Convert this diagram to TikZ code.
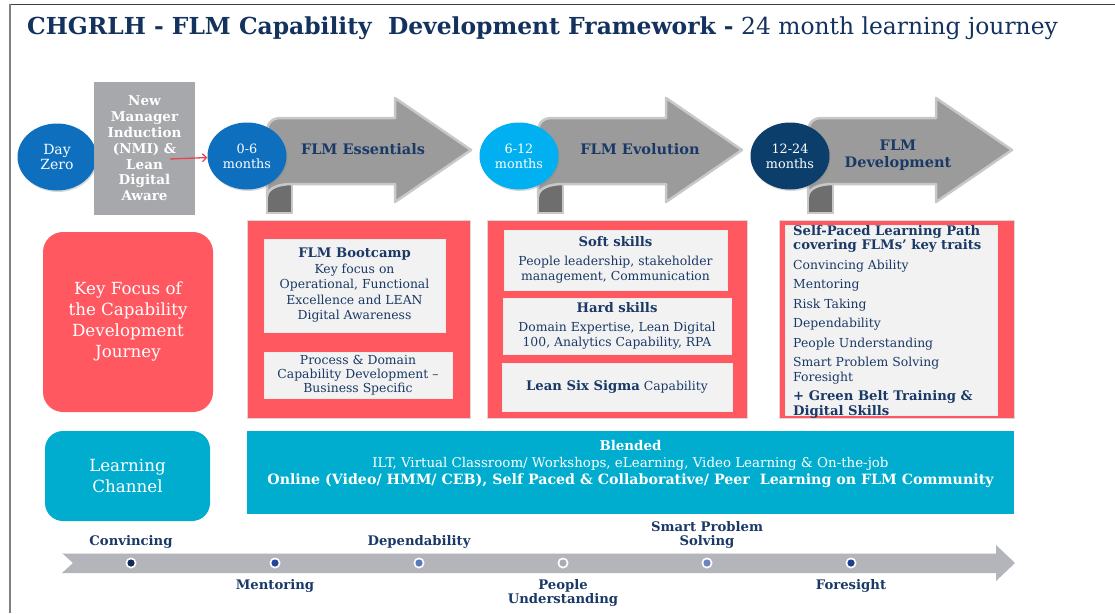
\documentclass[tikz,border=0pt]{standalone}
\usepackage{fontspec}
\setmainfont{DejaVu Serif}
\usetikzlibrary{shapes.geometric,arrows.meta,shadows}

\definecolor{navy}{HTML}{1A3966}
\definecolor{titlenavy}{HTML}{14325E}
\definecolor{coral}{HTML}{FF5861}
\definecolor{tealbox}{HTML}{00ADCE}
\definecolor{panel}{HTML}{F2F2F2}
\definecolor{nmigray}{HTML}{A6A8AB}
\definecolor{arrowgray}{HTML}{9B9B9B}
\definecolor{arrowedge}{HTML}{C8C8C8}
\definecolor{curlgray}{HTML}{6E6E6E}
\definecolor{bandgray}{HTML}{B3B5BB}
\definecolor{blueA}{HTML}{0E6FBF}
\definecolor{blueB}{HTML}{00B0F0}
\definecolor{blueC}{HTML}{0B3E6B}
\definecolor{linkred}{HTML}{E84450}
\definecolor{dotA}{HTML}{0F2B55}
\definecolor{dotB}{HTML}{23479A}
\definecolor{dotC}{HTML}{5B78B8}
\definecolor{dotD}{HTML}{A9ACB3}
\definecolor{dotE}{HTML}{6C84C2}
\definecolor{dotF}{HTML}{1E3F8E}

\newcommand{\fsz}[2]{\fontsize{#1}{#2}\selectfont}
\newcommand{\hd}[1]{{\fontsize{13.2}{15}\selectfont\bfseries #1}}

% ribbon-style phase arrow, #1 = left edge of its body
\newcommand{\ribbon}[1]{%
  \begin{scope}[shift={(#1,0)}]
    \filldraw[fill=curlgray, draw=arrowedge, line width=1.2pt]
      (0,178) -- (0,213) -- (25,213) -- (25,178) -- cycle;
    \filldraw[fill=arrowgray, draw=arrowedge, line width=2.5pt, line join=round]
      (0,197) -- (0,132) .. controls (0,123) and (5,118) .. (14,118)
      -- (128,118) -- (128,98) -- (204,150) -- (128,202) -- (128,184)
      -- (25,184) .. controls (12,184) and (0,188) .. (0,197) -- cycle;
  \end{scope}}

\begin{document}
\begin{tikzpicture}[x=1pt,y=-1pt,
  phase/.style={ellipse, minimum width=79pt, minimum height=67pt, inner sep=0pt,
    text=white, align=center, font=\fsz{12.8}{15},
    drop shadow={opacity=0.3, shadow xshift=1pt, shadow yshift=-1.5pt}},
  phasetitle/.style={text=navy, align=center, font=\fsz{14.5}{17}\bfseries},
  redpanel/.style={fill=coral, draw=black!15, line width=0.5pt, inner sep=0pt},
  card/.style={fill=panel, draw=white!85!gray, line width=0.6pt, inner sep=0pt,
    text=navy, align=center, font=\fsz{12.4}{15.5}},
  sidebox/.style={rounded corners=20pt, inner sep=0pt, text=white, align=center,
    font=\fsz{16.7}{21}},
  tlabel/.style={text=navy, align=center, font=\fsz{13.2}{14.5}\bfseries},
  dotring/.style={circle, fill=white, minimum size=11pt, inner sep=0pt},
  linkarrow/.style={draw=linkred, line width=1.3pt, -{Straight Barb[length=4pt,width=8pt]}}
]
\useasboundingbox[fill=white] (0,0) rectangle (1115,613);

% frame lines
\draw[black!75, line width=1.2pt] (10,4.5) -- (1115,4.5);
\draw[black!50, line width=2.2pt] (10,4) -- (10,613);

% heading
\node[anchor=base west, inner sep=0pt, text=titlenavy] (title) at (27,34)
  {\fsz{23.4}{28}\textbf{CHGRLH - FLM Capability\ \ Development Framework -}\ 24 month learning journey};

% starting point and induction
\node[phase, fill=blueA, font=\fsz{14}{15}] (c0) at (57,157) {Day\\Zero};
\node[fill=nmigray, minimum width=101pt, minimum height=133pt, inner sep=0pt,
  text=white, align=center, font=\fsz{13.5}{15.8}\bfseries] (nmi) at (144.5,148.5)
  {New\\Manager\\Induction\\(NMI) \&\\Lean\\Digital\\Aware};

% phase ribbons
\ribbon{267}
\ribbon{538}
\ribbon{808}

\node[phase, fill=blueA] (c1) at (247,156) {0-6\\months};
\node[phase, fill=blueB] (c2) at (519,156) {6-12\\months};
\node[phase, fill=blueC] (c3) at (790,156) {12-24\\months};

\node[phasetitle] (p1) at (363,149) {FLM Essentials};
\node[phasetitle] (p2) at (640,149) {FLM Evolution};
\node[phasetitle] (p3) at (898,155) {FLM\\Development};

\coordinate (nmiout) at (170,159);
\draw[linkarrow] (nmiout) -- (c1);

% key focus row
\node[sidebox, fill=coral, minimum width=170pt, minimum height=180pt] (kf) at (128,322)
  {Key Focus of\\the Capability\\Development\\Journey};

\node[redpanel, minimum width=223pt, minimum height=198pt] (r1) at (358.5,319) {};
\node[redpanel, minimum width=260pt, minimum height=198pt] (r2) at (617,319) {};
\node[redpanel, minimum width=235pt, minimum height=198pt] (r3) at (896.5,319) {};

\node[card, minimum width=181pt, minimum height=93pt] (b1) at (354.5,285.5)
  {\hd{FLM Bootcamp}\\Key focus on\\Operational, Functional\\Excellence and LEAN\\Digital Awareness};
\node[card, minimum width=188pt, minimum height=46pt, font=\fsz{12.4}{14}] (b2) at (358,375)
  {Process \& Domain\\Capability Development –\\Business Specific};

\node[card, minimum width=223pt, minimum height=60pt, font=\fsz{12.4}{15}] (s1) at (615.5,260)
  {\hd{Soft skills}\\[4pt]People leadership, stakeholder\\management, Communication};
\node[card, minimum width=228pt, minimum height=56pt, font=\fsz{12.4}{15}] (s2) at (617,326)
  {\hd{Hard skills}\\[4pt]Domain Expertise, Lean Digital\\100, Analytics Capability, RPA};
\node[card, minimum width=230pt, minimum height=48pt] (s3) at (617,387)
  {\hd{Lean Six Sigma} Capability};

\node[card, minimum width=212pt, minimum height=190pt] (s4) at (891,320) {};
\node[anchor=north west, inner sep=0pt, text=navy, align=left, font=\fsz{12.4}{14.5}] (traits) at (793,225)
  {\hd{Self-Paced Learning Path}\\
   \hd{covering FLMs’ key traits}\\[5pt]
   Convincing Ability\\[5pt]
   Mentoring\\[5pt]
   Risk Taking\\[5pt]
   Dependability\\[5pt]
   People Understanding\\[5pt]
   Smart Problem Solving\\
   Foresight\\[5pt]
   \hd{+ Green Belt Training \&}\\
   \hd{Digital Skills}};

% learning channel row
\node[sidebox, rounded corners=18pt, fill=tealbox, minimum width=165pt, minimum height=90pt] (lc) at (127.5,476)
  {Learning\\Channel};
\node[fill=tealbox, minimum width=767pt, minimum height=83pt, inner sep=0pt] (bl) at (630.5,472.5) {};
\node[text=white, align=center, inner sep=0pt, font=\fsz{13.4}{17}] (blt) at (630.5,464)
  {\textbf{Blended}\\
   ILT, Virtual Classroom/ Workshops, eLearning, Video Learning \& On-the-job\\
   {\fontsize{14.2}{17}\selectfont\bfseries Online (Video/ HMM/ CEB), Self Paced \& Collaborative/ Peer\ \ Learning on FLM Community}};

% trait timeline
\fill[bandgray] (62,553) -- (996,553) -- (996,545) -- (1015,563) -- (996,581)
  -- (996,573) -- (62,573) -- (73,563) -- cycle;
\draw[white!60!bandgray, line width=0.8pt] (62,553) -- (996,553);

\foreach \n/\x/\c in {d1/131/dotA, d2/275/dotB, d3/419/dotC, d4/563/dotD, d5/707/dotE, d6/851/dotF}{
  \node[dotring] (\n) at (\x,563) {};
  \fill[\c] (\n.center) circle[radius=3.6pt];
}

\node[tlabel] (l1) at (131,542) {Convincing};
\node[tlabel] (l2) at (275,586) {Mentoring};
\node[tlabel] (l3) at (419,542) {Dependability};
\node[tlabel] (l4) at (563,593) {People\\Understanding};
\node[tlabel] (l5) at (707,535) {Smart Problem\\Solving};
\node[tlabel] (l6) at (851,586) {Foresight};
\end{tikzpicture}
\end{document}
